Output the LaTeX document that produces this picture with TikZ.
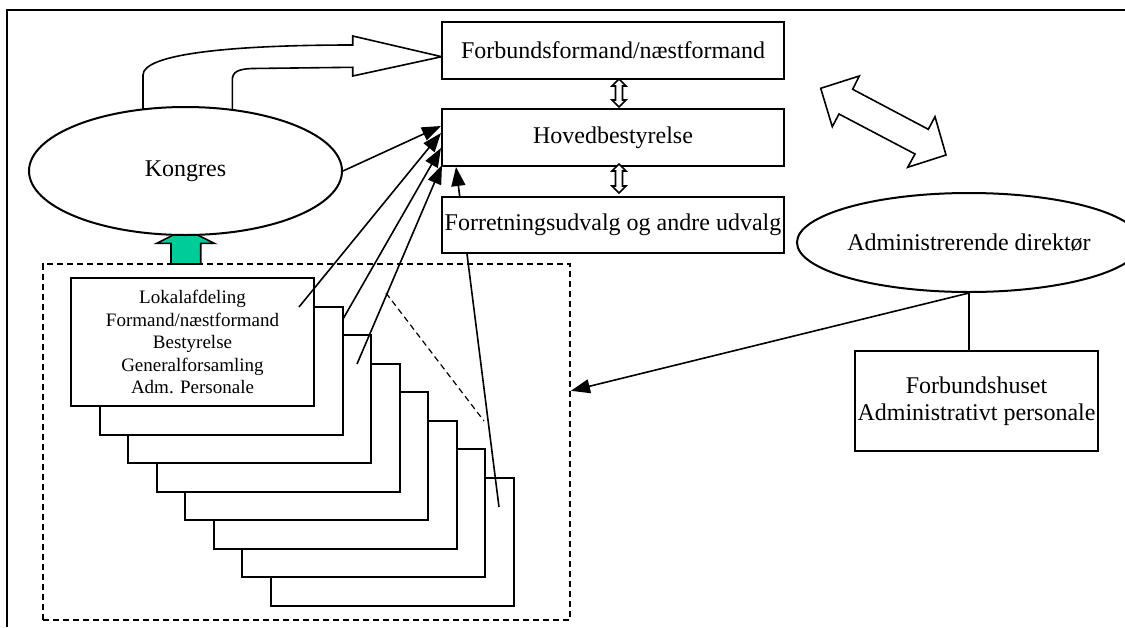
\documentclass[tikz,border=0pt]{standalone}
\usepackage{fontspec}
\setmainfont{Liberation Serif}
\usetikzlibrary{positioning,shapes.geometric,arrows.meta,calc}
\definecolor{upgreen}{HTML}{00CC99}

\begin{document}
\begin{tikzpicture}[x=0.5pt,y=-0.5pt]
     \tikzset{box/.style={draw, fill=white, line width=1pt, inner sep=0pt, align=center, font=\fontsize{12}{13.5}\selectfont}}
     \tikzset{oval/.style={box, ellipse}}
     \tikzset{stackbox/.style={box, minimum width=121.5pt, minimum height=64pt, font=\fontsize{9.5}{11.25}\selectfont}}
     \tikzset{line/.style={draw, line width=0.8pt}}
     \tikzset{arr/.style={line, -{Triangle[length=9.5pt,width=7pt]}}}
     \tikzset{blockarrow/.style={draw, fill=white, line width=0.8pt, line join=miter}}
     \useasboundingbox (0,0) rectangle (1125,627);

     % ramme
     \draw [line width=0.7pt] (7,627) -- (7,10) -- (1125,10);

     % lokalafdelinger
     \node [draw, dashed, dash pattern=on 3pt off 2pt, line width=1pt, minimum width=263.6pt, minimum height=178pt, inner sep=0pt] (region) at (306.35,442) {};
     \draw [line width=0.8pt, fill=upgreen] (185.5,229) -- (214.3,243.3) -- (200.7,243.3) -- (200.7,264) -- (171,264) -- (171,243.3) -- (156.7,243.3) -- cycle;
     \foreach \i in {7,6,...,1}
       \node [stackbox] (lok\i) at ({192.5+28.5*\i},{342+28.5*\i}) {};
     \node [stackbox] (lok0) at (192.5,342) {Lokalafdeling\\Formand/næstformand\\Bestyrelse\\Generalforsamling\\Adm. Personale};

     % kongres
     \path [blockarrow] (143,112) -- (143,75) .. controls (143,54) and (230,45) .. (352.7,45) -- (352.7,36) -- (441.7,56.7) -- (352.7,76) -- (352.7,67.3) -- (252,68.5) .. controls (238,69) and (232.3,72) .. (232.3,80) -- (232.3,112) -- cycle;
     \node [oval, minimum width=156.5pt, minimum height=64pt] (kongres) at (185.5,171) {Kongres};

     % forbund
     \node [box, minimum width=171pt, minimum height=28.5pt] (forb) at (613,50.5) {Forbundsformand/næstformand};
     \node [box, minimum width=171pt, minimum height=28.5pt, below=14pt of forb] (hoved) {Hovedbestyrelse};
     \coordinate (s4) at (499,507);
     \path [arr] (s4) -- ($(hoved.south west)+(7.5pt,0)$);
     \node [box, minimum width=171pt, minimum height=28pt, below=14.5pt of hoved] (forret) {Forretningsudvalg og andre udvalg};

     \path [blockarrow] (619,79) -- (626,86) -- (622.5,86) -- (622.5,100) -- (626,100) -- (619,107) -- (612,100) -- (615.5,100) -- (615.5,86) -- (612,86) -- cycle;
     \path [blockarrow] (619,164) -- (626,171) -- (622.5,171) -- (622.5,186) -- (626,186) -- (619,193) -- (612,186) -- (615.5,186) -- (615.5,171) -- (612,171) -- cycle;

     \coordinate (s1) at (299,307);
     \coordinate (s2) at (343,319);
     \coordinate (s3) at (357,364);
     \path [arr] (kongres.east) -- ($(hoved.west)+(0,5.75pt)$);
     \path [arr] (s1) -- ($(hoved.west)+(0,2.25pt)$);
     \path [arr] (s2) -- ($(hoved.west)+(0,-5.25pt)$);
     \path [arr] (s3) -- ($(hoved.south west)+(0.5pt,1pt)$);

     \coordinate (d1) at (386,293);
     \coordinate (d2) at (484,421);
     \draw [line width=0.6pt, dash pattern=on 3pt off 2pt] (d1) -- (d2);

     % administration
     \path [blockarrow] (820.7,88.3) -- (859.3,76) -- (852.7,89.3) -- (928.3,129.3) -- (935,116.7) -- (946,155) -- (907.7,167.3) -- (915,154) -- (839,114) -- (832.3,126.7) -- cycle;
     \node [oval, minimum width=143pt, minimum height=49.5pt] (direktor) at (969,242.5) {Administrerende direktør};
     \node [box, minimum width=121.5pt, minimum height=50pt, below=28.5pt of direktor, xshift=3.75pt] (huset) {Forbundshuset\\Administrativt personale};
     \path [line] (direktor.south) -- (direktor.south |- huset.north);
     \path [arr] (direktor.south) -- ($(region.north east)!0.357!(region.south east)$);
\end{tikzpicture}
\end{document}
